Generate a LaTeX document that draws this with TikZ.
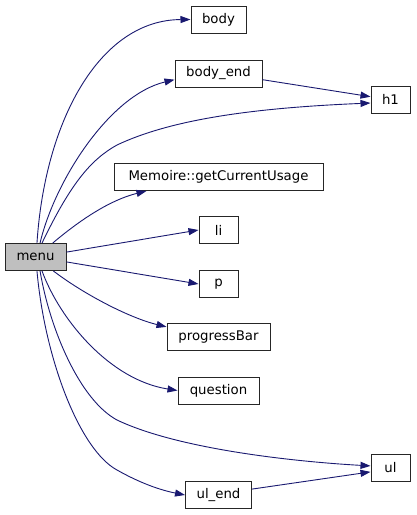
\documentclass[tikz,border=0pt]{standalone}
\usepackage{fontspec}
\setmainfont{DejaVu Sans}
\usetikzlibrary{arrows.meta}
\definecolor{edgeblue}{HTML}{191970}
\definecolor{menugray}{HTML}{BFBFBF}
\begin{document}
\begin{tikzpicture}[x=1pt,y=-1pt,
  fn/.style={draw=black!85,line width=1pt,rectangle,inner sep=0pt,minimum height=27pt,font=\fontsize{13.3}{16}\selectfont},
  call/.style={draw=edgeblue,line width=0.9pt,-{Triangle[length=10pt,width=7pt]}}]
\useasboundingbox (0,0) rectangle (416,515);
\node[fn,minimum width=55pt] (body) at (218.5,19.5) {body};
\node[fn,minimum width=87pt] (bodyend) at (218.5,73.5) {body\_end};
\node[fn,minimum width=39pt] (h1) at (390.5,99.5) {h1};
\node[fn,minimum width=209pt] (mem) at (218.5,177) {Memoire::getCurrentUsage};
\node[fn,minimum width=39pt] (li) at (218.5,230) {li};
\node[fn,minimum width=39pt] (p) at (218.5,284) {p};
\node[fn,minimum width=61pt,fill=menugray] (menu) at (35.5,257) {menu};
\node[fn,minimum width=103pt] (pb) at (218.5,337) {progressBar};
\node[fn,minimum width=81pt] (q) at (218.5,390.5) {question};
\node[fn,minimum width=39pt] (ul) at (390.5,468) {ul};
\node[fn,minimum width=66pt] (ulend) at (218.5,495) {ul\_end};

\draw[call] (menu.84) .. controls (45,120) and (100,20) .. (body.west);
\draw[call] (menu.72) .. controls (55,180) and (110,95) .. (bodyend.188);
\draw[call] (menu.65) .. controls (70,185) and (90,160) .. (117,145) .. controls (170,120) and (250,108) .. (h1.190);
\draw[call] (bodyend.-8.5) -- (h1.172.7);
\draw[call] (menu.39) .. controls (80,220) and (110,200) .. (mem.191.2);
\draw[call] (menu.9.3) -- (li.west);
\draw[call] (menu.-9.3) -- (p.west);
\draw[call] (menu.-38.7) .. controls (85,295) and (130,318) .. (pb.169);
\draw[call] (menu.-65) .. controls (60,320) and (110,380) .. (q.west);
\draw[call] (menu.-72) .. controls (50,330) and (80,400) .. (117,420) .. controls (180,450) and (300,462) .. (ul.174);
\draw[call] (menu.-84) .. controls (45,360) and (80,450) .. (117,470) .. controls (140,483) and (160,490) .. (ulend.west);
\draw[call] (ulend.10.3) -- (ul.191.6);
\end{tikzpicture}
\end{document}
